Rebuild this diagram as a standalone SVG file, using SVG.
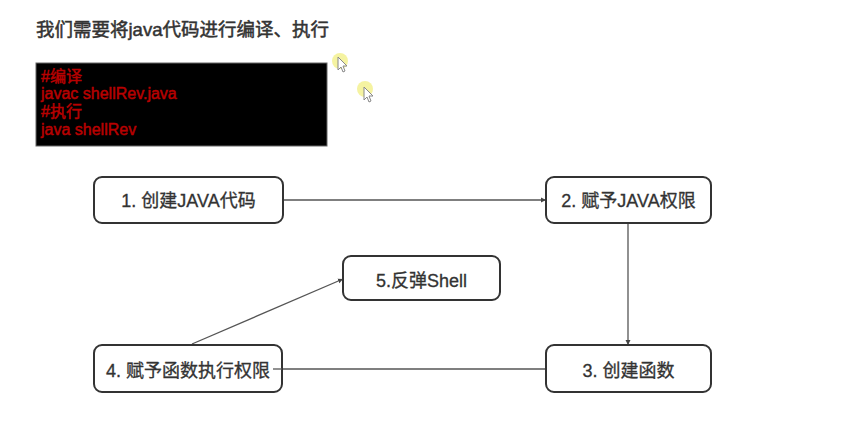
<svg xmlns="http://www.w3.org/2000/svg" width="855" height="423" viewBox="0 0 855 423">
<style>
  .t { font-family: "Liberation Sans", "Noto Sans CJK SC", sans-serif; fill: #333; }
  .title { font-size: 18.5px; stroke: #333; stroke-width: 0.5; }
  .code { font-size: 16px; fill: #b80000; stroke: #b80000; stroke-width: 0.5; }
  .node rect { fill: #fff; stroke: #333; stroke-width: 2; }
  .node text { font-size: 18px; text-anchor: middle; stroke: #333; stroke-width: 0.3; }
  .conn line { stroke: #555; stroke-width: 1.3; fill: none; }
  .hl { fill: #f3f08a; opacity: 0.8; }
  .cur { fill: #fff; stroke: #888; stroke-width: 1; }
</style>
<defs>
  <marker id="arr" markerWidth="6" markerHeight="6" refX="5" refY="3" orient="auto" markerUnits="userSpaceOnUse">
    <path d="M0,0.5 L5,3 L0,5.5 Z" fill="#444"/>
  </marker>
</defs>
<rect width="855" height="423" fill="#fff"/>

<text class="t title" x="36" y="36">我们需要将java代码进行编译、执行</text>

<g id="code">
  <rect x="36" y="63" width="291" height="83" fill="#000" stroke="#666" stroke-width="1"/>
  <text class="t code" x="41" y="82">#编译</text>
  <text class="t code" x="41" y="99">javac shellRev.java</text>
  <text class="t code" x="41" y="117">#执行</text>
  <text class="t code" x="41" y="135">java shellRev</text>
</g>

<g id="cursors">
  <circle class="hl" cx="340" cy="61" r="8"/>
  <path class="cur" d="M338,57 L338,70 L341,67 L343,72 L345,71 L343,66 L347,66 Z"/>
  <circle class="hl" cx="365" cy="89" r="8"/>
  <path class="cur" d="M364,87 L364,100 L367,97 L369,102 L371,101 L369,96 L373,96 Z"/>
</g>

<g id="connectors" class="conn">
  <line x1="283" y1="200" x2="546" y2="200" marker-end="url(#arr)"/>
  <line x1="628" y1="223" x2="628" y2="345" marker-end="url(#arr)"/>
  <line x1="546" y1="369" x2="273" y2="369"/>
  <line x1="192" y1="344" x2="343" y2="279" marker-end="url(#arr)"/>
</g>

<g id="node1" class="node">
  <rect x="94" y="177" width="189" height="46" rx="8"/>
  <text class="t" x="188.5" y="207">1. 创建JAVA代码</text>
</g>
<g id="node2" class="node">
  <rect x="546" y="177" width="165" height="46" rx="8"/>
  <text class="t" x="628.5" y="207">2. 赋予JAVA权限</text>
</g>
<g id="node5" class="node">
  <rect x="343" y="256" width="157" height="44" rx="8"/>
  <text class="t" x="421.5" y="287">5.反弹Shell</text>
</g>
<g id="node4" class="node">
  <rect x="94" y="345" width="188" height="47" rx="8"/>
  <text class="t" x="188" y="377">4. 赋予函数执行权限</text>
</g>
<g id="node3" class="node">
  <rect x="546" y="345" width="165" height="47" rx="8"/>
  <text class="t" x="628.5" y="377">3. 创建函数</text>
</g>
<line x1="273" y1="369" x2="282" y2="369" stroke="#555" stroke-width="1.3"/>
</svg>
